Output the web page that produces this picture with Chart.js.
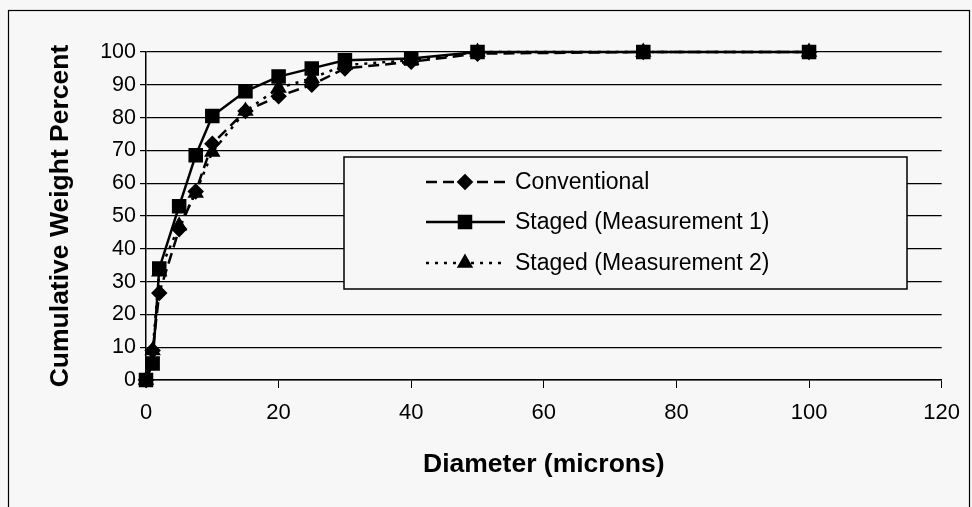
<!DOCTYPE html>
<html>
<head>
<meta charset="utf-8">
<script src="https://cdn.jsdelivr.net/npm/chart.js@4/dist/chart.umd.min.js"></script>
<style>
  html, body { margin: 0; padding: 0; background: #f7f7f7; }
  #wrap { width: 972px; height: 507px; position: relative; }
</style>
</head>
<body>
<div id="wrap"><canvas id="c" width="972" height="507"></canvas></div>
<script>
// ---- Data ----
const diameters    = [0, 1, 2, 5, 7.5, 10, 15, 20, 25, 30, 40, 50, 75, 100];
const conventional = [0, 9, 26.5, 46, 57.5, 72, 82, 86.5, 90, 95, 97, 99.5, 100, 100];
const staged1      = [0, 5, 34, 53, 68.5, 80.5, 88, 92.5, 95, 97.5, 98, 100, 100, 100];
const staged2      = [0, 9, 33, 47, 57, 69.5, 82, 89, 92, 96, 97.5, 100, 100, 100];
const seriesNames  = ['Conventional', 'Staged (Measurement 1)', 'Staged (Measurement 2)'];
const xAxisTitle   = 'Diameter (microns)';
const yAxisTitle   = 'Cumulative Weight Percent';

function pts(ys) { return diameters.map((x, i) => ({ x: x, y: ys[i] })); }

const BG = '#f7f7f7';
const FONT = '"Liberation Sans", Arial, sans-serif';

const frameAndLegend = {
  id: 'frameAndLegend',
  beforeDraw(chart) {
    const ctx = chart.ctx;
    ctx.save();
    ctx.fillStyle = BG;
    ctx.fillRect(0, 0, chart.width, chart.height);
    ctx.restore();
  },
  afterDraw(chart) {
    const ctx = chart.ctx;
    ctx.save();
    // outer chart frame
    ctx.strokeStyle = '#000';
    ctx.lineWidth = 1.2;
    ctx.strokeRect(8.5, 10.5, 961, 500);
    // legend box
    const bx = 344, by = 157, bw = 563, bh = 132;
    ctx.fillStyle = BG;
    ctx.fillRect(bx, by, bw, bh);
    ctx.lineWidth = 1.5;
    ctx.strokeRect(bx, by, bw, bh);
    const rows = [182, 222, 263];
    chart.data.datasets.forEach((ds, i) => {
      const y = rows[i];
      ctx.save();
      ctx.strokeStyle = ds.borderColor;
      ctx.lineWidth = ds.borderWidth;
      ctx.setLineDash(ds.borderDash || []);
      ctx.beginPath();
      ctx.moveTo(426, y);
      ctx.lineTo(505, y);
      ctx.stroke();
      ctx.setLineDash([]);
      ctx.fillStyle = ds.pointBackgroundColor;
      ctx.strokeStyle = ds.pointBorderColor;
      Chart.helpers.drawPoint(ctx, {
        pointStyle: ds.pointStyle,
        radius: ds.pointRadius,
        borderWidth: 1,
        rotation: 0
      }, 465, y);
      ctx.restore();
      ctx.fillStyle = '#000';
      ctx.font = '23px ' + FONT;
      ctx.textBaseline = 'middle';
      ctx.textAlign = 'left';
      ctx.fillText(ds.label, 515, y + 1);
    });
    ctx.restore();
  }
};

new Chart(document.getElementById('c'), {
  type: 'line',
  data: {
    datasets: [
      {
        label: seriesNames[0], data: pts(conventional),
        borderColor: '#000', borderWidth: 2.5, borderDash: [11, 6],
        pointStyle: 'rectRot', pointRadius: 6.5,
        pointBackgroundColor: '#000', pointBorderColor: '#000',
        clip: false, order: 1
      },
      {
        label: seriesNames[1], data: pts(staged1),
        borderColor: '#000', borderWidth: 2.5,
        pointStyle: 'rect', pointRadius: 8.5,
        pointBackgroundColor: '#000', pointBorderColor: '#000',
        clip: false, order: 3
      },
      {
        label: seriesNames[2], data: pts(staged2),
        borderColor: '#000', borderWidth: 2.5, borderDash: [3, 6],
        pointStyle: 'triangle', pointRadius: 7,
        pointBackgroundColor: '#000', pointBorderColor: '#000',
        clip: false, order: 2
      }
    ]
  },
  options: {
    responsive: false,
    animation: false,
    devicePixelRatio: 1,
    layout: { padding: { left: 0, top: 52, right: 29, bottom: 0 } },
    plugins: { legend: { display: false }, tooltip: { enabled: false } },
    elements: { line: { tension: 0 } },
    scales: {
      x: {
        type: 'linear', min: 0, max: 120,
        ticks: { stepSize: 20, color: '#000', padding: 12,
                 font: { family: FONT, size: 22 } },
        grid: { drawOnChartArea: false, drawTicks: true, tickLength: 8, color: '#000', lineWidth: 1 },
        border: { display: true, color: '#000', width: 1.5 },
        title: { display: true, text: xAxisTitle, color: '#000',
                 font: { family: FONT, size: 26.5, weight: 'bold' },
                 padding: { top: 0, bottom: 26 } },
        afterFit(scale) { scale.height = 507 - 380; }
      },
      y: {
        min: 0, max: 100,
        ticks: { stepSize: 10, color: '#000', padding: 4,
                 font: { family: FONT, size: 21.5 } },
        grid: { drawOnChartArea: true, drawTicks: true, tickLength: 6, color: '#000', lineWidth: 1.2 },
        border: { display: true, color: '#000', width: 1.5 },
        title: { display: true, text: yAxisTitle, color: '#000',
                 font: { family: FONT, size: 26.5, weight: 'bold' },
                 padding: { top: 45, bottom: 0 } },
        afterFit(scale) { scale.width = 146; }
      }
    }
  },
  plugins: [frameAndLegend]
});
</script>
</body>
</html>
